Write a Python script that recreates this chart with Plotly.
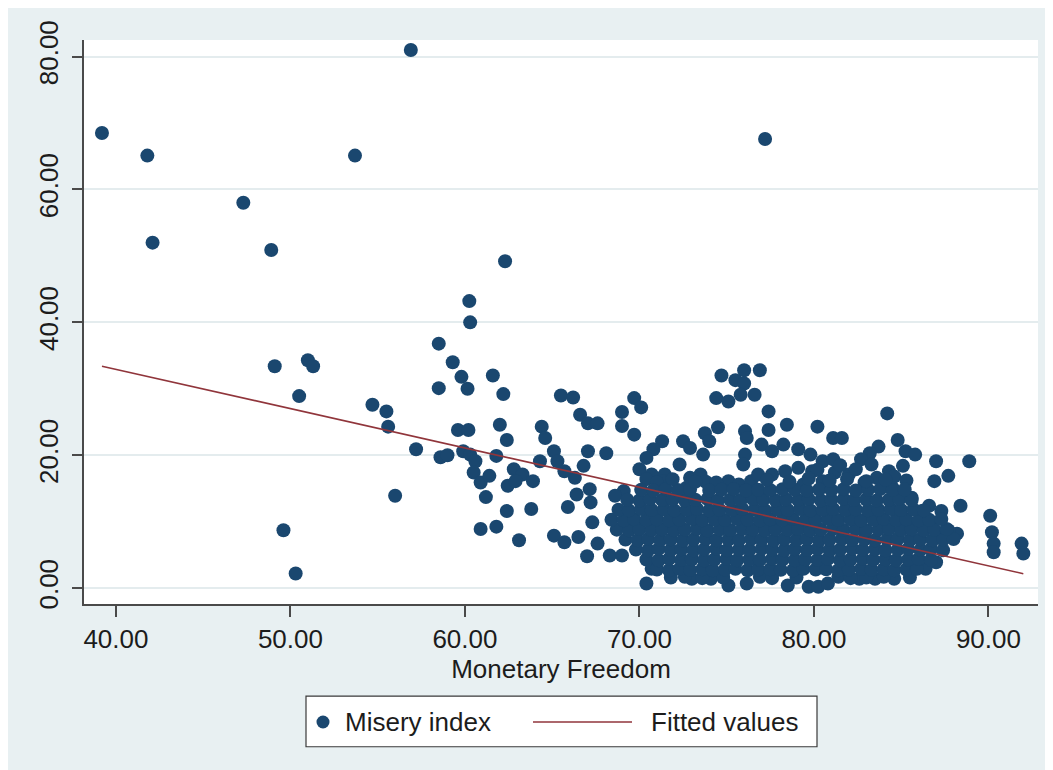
import plotly.graph_objects as go

# ---------------- data ----------------
# scattered / outlying observations
mf_scatter = [39.2, 41.8, 42.1, 47.3, 48.9, 53.7, 56.9, 77.2,
              49.6, 50.3, 49.1, 51.0, 51.3, 50.5, 54.7, 55.5, 55.6, 56.0, 57.2,
              62.3, 60.25, 60.3, 58.5, 59.3, 59.8, 60.15, 58.5, 61.6, 62.2,
              65.5, 66.2, 66.6, 67.05, 67.6, 69.0, 69.0, 69.7, 70.1, 69.7,
              59.6, 60.2, 62.0, 62.4, 64.4, 64.6,
              58.6, 59.0, 59.9, 60.3, 60.6, 60.5, 60.9, 61.4, 61.8, 61.2,
              62.8, 63.3, 63.9, 62.45, 62.9, 62.4, 63.8, 60.9, 61.8, 63.1,
              64.3, 65.1, 65.3, 65.7, 66.3, 66.8, 67.05, 68.1,
              66.4, 67.15, 67.2, 65.9, 65.1, 65.7, 66.5, 67.0, 67.3, 67.6, 68.3, 69.0, 70.4,
              74.7, 76.0, 76.9, 75.5, 76.0, 74.4, 75.1, 75.8, 76.6, 77.4, 78.45, 80.2,
              74.5, 73.75, 74.0, 73.65, 76.05, 76.15, 76.05, 75.95,
              77.4, 77.0, 77.6, 78.25, 79.1, 79.8,
              71.3, 70.8, 70.4, 70.0, 70.7,
              72.5, 72.9, 72.3, 72.9, 73.5, 72.7, 71.45, 71.3,
              75.1, 75.7, 76.4, 76.8, 77.6, 78.35, 79.1, 79.9, 80.5, 79.4, 80.5,
              73.0, 74.1, 75.1, 76.15, 78.5, 79.7, 80.25, 70.7,
              84.2, 81.1, 81.6, 84.8, 85.25, 85.8, 87.0, 88.9, 86.9, 87.7,
              83.7, 83.2, 82.7, 81.1, 85.1, 84.3, 83.6, 82.9, 82.0, 81.2,
              85.6, 84.5, 88.4, 87.3, 86.2, 86.6,
              90.1, 90.2, 90.3, 90.3, 91.9, 92.0,
              88.2, 87.7, 87.1, 86.8, 86.2, 85.6,
              87.0, 86.4, 85.4, 84.6, 83.5, 82.6, 80.8,
              80.2, 81.5, 82.4, 83.3, 84.6, 85.3, 70.4, 71.0, 73.8, 74.4, 69.1, 68.6]
mi_scatter = [68.5, 65.1, 52.0, 58.0, 50.9, 65.1, 81.0, 67.6,
              8.7, 2.2, 33.4, 34.3, 33.4, 28.9, 27.6, 26.6, 24.3, 13.9, 20.9,
              49.2, 43.2, 40.0, 36.8, 34.0, 31.8, 30.0, 30.1, 32.0, 29.2,
              29.0, 28.7, 26.1, 24.8, 24.8, 26.5, 24.4, 28.6, 27.2, 23.1,
              23.8, 23.8, 24.6, 22.3, 24.3, 22.6,
              19.7, 20.0, 20.6, 20.1, 19.1, 17.4, 15.9, 16.9, 19.9, 13.7,
              17.9, 17.1, 16.1, 15.4, 16.1, 11.6, 11.9, 8.9, 9.25, 7.2,
              19.1, 20.6, 19.1, 17.6, 16.6, 18.4, 20.6, 20.3,
              14.1, 14.9, 12.9, 12.2, 7.9, 6.9, 7.7, 4.8, 9.9, 6.7, 4.9, 4.9, 0.7,
              32.0, 32.8, 32.8, 31.3, 30.8, 28.6, 28.1, 29.1, 29.1, 26.6, 24.6, 24.3,
              24.2, 23.3, 22.1, 20.1, 23.6, 22.6, 20.1, 18.6,
              23.8, 21.6, 20.6, 21.6, 20.9, 20.1,
              22.1, 20.9, 19.6, 17.9, 17.1,
              22.1, 21.1, 18.6, 16.6, 17.1, 15.1, 17.1, 16.1,
              16.1, 15.6, 16.1, 17.1, 17.1, 17.6, 18.1, 17.6, 19.1, 15.6, 16.1,
              1.4, 1.4, 0.4, 0.7, 0.4, 0.2, 0.2, 2.9,
              26.3, 22.6, 22.6, 22.3, 20.6, 20.1, 19.1, 19.1, 16.1, 16.9,
              21.3, 20.3, 19.4, 19.4, 18.4, 17.6, 16.6, 15.9, 17.1, 17.4,
              13.6, 15.1, 12.4, 11.6, 11.6, 12.4,
              10.9, 8.4, 6.7, 5.4, 6.7, 5.2,
              8.2, 8.7, 7.7, 9.7, 10.1, 9.1,
              3.9, 2.9, 2.9, 1.4, 1.4, 1.4, 0.7,
              17.8, 18.5, 17.9, 18.6, 16.8, 16.2, 16.4, 15.9, 16.0, 15.9, 14.6, 13.9]

# dense cluster of observations (about 68-88 monetary freedom, 1.5-16 misery)
mf_cluster = [71.8, 72.6, 73.6, 74.8, 76.9, 77.6, 79.0, 81.4, 82.1, 83.0, 84.0, 85.5,
              71.0, 71.7, 72.3, 72.9, 73.6, 74.2, 74.9, 75.5, 76.2, 76.8, 77.5, 78.1, 78.8, 79.4, 80.1, 80.7, 81.4, 82.0, 82.7, 83.3, 84.0, 84.6, 85.3, 85.9,
              70.4, 71.1, 71.7, 72.4, 73.0, 73.7, 74.3, 75.0, 75.6, 76.3, 76.9, 77.6, 78.2, 78.9, 79.5, 80.2, 80.8, 81.5, 82.1, 82.8, 83.4, 84.1, 84.7, 85.4, 86.0, 86.7,
              69.8, 70.5, 71.1, 71.8, 72.4, 73.1, 73.7, 74.4, 75.0, 75.7, 76.3, 77.0, 77.6, 78.3, 78.9, 79.6, 80.2, 80.9, 81.5, 82.2, 82.8, 83.5, 84.1, 84.8, 85.4, 86.1, 86.7, 87.4,
              69.2, 69.9, 70.5, 71.2, 71.8, 72.5, 73.1, 73.8, 74.4, 75.1, 75.7, 76.4, 77.0, 77.7, 78.3, 79.0, 79.6, 80.3, 80.9, 81.6, 82.2, 82.9, 83.5, 84.2, 84.8, 85.5, 86.1, 86.8, 87.4, 88.0,
              68.7, 69.4, 70.0, 70.7, 71.3, 72.0, 72.6, 73.3, 73.9, 74.6, 75.2, 75.9, 76.5, 77.2, 77.8, 78.5, 79.1, 79.8, 80.4, 81.1, 81.7, 82.4, 83.0, 83.7, 84.3, 85.0, 85.6, 86.3, 86.9, 87.6,
              68.4, 69.1, 69.7, 70.4, 71.0, 71.7, 72.3, 73.0, 73.6, 74.3, 74.9, 75.6, 76.2, 76.9, 77.5, 78.2, 78.8, 79.5, 80.1, 80.8, 81.4, 82.1, 82.7, 83.4, 84.0, 84.7, 85.3, 86.0, 86.6, 87.3,
              68.8, 69.4, 70.1, 70.7, 71.4, 72.0, 72.7, 73.3, 74.0, 74.6, 75.3, 75.9, 76.6, 77.2, 77.9, 78.5, 79.2, 79.8, 80.5, 81.1, 81.8, 82.4, 83.1, 83.7, 84.4, 85.0, 85.7, 86.3,
              69.3, 70.0, 70.6, 71.3, 71.9, 72.6, 73.2, 73.9, 74.5, 75.2, 75.8, 76.5, 77.1, 77.8, 78.4, 79.1, 79.7, 80.4, 81.0, 81.7, 82.3, 83.0, 83.6, 84.3, 84.9, 85.6,
              70.1, 70.8, 71.5, 72.2, 72.9, 74.0, 74.7, 75.4, 76.1, 76.8, 77.5, 78.2, 78.9, 79.6, 80.3, 81.0, 81.7, 82.4, 83.1, 83.8, 84.5, 85.2,
              77.3, 78.6, 79.7, 80.9, 81.9, 83.0, 84.1, 71.9, 73.2]
mi_cluster = [1.6, 1.7, 1.5, 1.6, 1.7, 1.5, 1.6, 1.7, 1.5, 1.6, 1.7, 1.6,
              2.8, 2.7, 2.9, 2.75, 2.85, 2.7, 2.8, 2.9, 2.7, 2.8, 2.85, 2.75, 2.7, 2.9, 2.8, 2.85, 2.7, 2.8, 2.9, 2.75, 2.85, 2.7, 2.8, 2.9,
              4.3, 4.2, 4.4, 4.25, 4.35, 4.2, 4.3, 4.4, 4.2, 4.3, 4.25, 4.4, 4.3, 4.2, 4.35, 4.25, 4.4, 4.2, 4.3, 4.4, 4.25, 4.35, 4.2, 4.3, 4.4, 4.25,
              5.8, 5.7, 5.9, 5.75, 5.85, 5.7, 5.8, 5.9, 5.7, 5.8, 5.75, 5.9, 5.8, 5.7, 5.85, 5.75, 5.9, 5.7, 5.8, 5.9, 5.75, 5.85, 5.7, 5.8, 5.9, 5.75, 5.85, 5.7,
              7.3, 7.2, 7.4, 7.25, 7.35, 7.2, 7.3, 7.4, 7.2, 7.3, 7.25, 7.4, 7.3, 7.2, 7.35, 7.25, 7.4, 7.2, 7.3, 7.4, 7.25, 7.35, 7.2, 7.3, 7.4, 7.25, 7.35, 7.2, 7.3, 7.4,
              8.8, 8.7, 8.9, 8.75, 8.85, 8.7, 8.8, 8.9, 8.7, 8.8, 8.75, 8.9, 8.8, 8.7, 8.85, 8.75, 8.9, 8.7, 8.8, 8.9, 8.75, 8.85, 8.7, 8.8, 8.9, 8.75, 8.85, 8.7, 8.8, 8.9,
              10.3, 10.2, 10.4, 10.25, 10.35, 10.2, 10.3, 10.4, 10.2, 10.3, 10.25, 10.4, 10.3, 10.2, 10.35, 10.25, 10.4, 10.2, 10.3, 10.4, 10.25, 10.35, 10.2, 10.3, 10.4, 10.25, 10.35, 10.2, 10.3, 10.4,
              11.8, 11.7, 11.9, 11.75, 11.85, 11.7, 11.8, 11.9, 11.7, 11.8, 11.75, 11.9, 11.8, 11.7, 11.85, 11.75, 11.9, 11.7, 11.8, 11.9, 11.75, 11.85, 11.7, 11.8, 11.9, 11.75, 11.85, 11.7,
              13.3, 13.2, 13.4, 13.25, 13.35, 13.2, 13.3, 13.4, 13.2, 13.3, 13.25, 13.4, 13.3, 13.2, 13.35, 13.25, 13.4, 13.2, 13.3, 13.4, 13.25, 13.35, 13.2, 13.3, 13.4, 13.25,
              14.8, 14.7, 14.9, 14.75, 14.85, 14.7, 14.8, 14.9, 14.7, 14.8, 14.75, 14.9, 14.8, 14.7, 14.85, 14.75, 14.9, 14.7, 14.8, 14.9, 14.75, 14.85,
              16.3, 16.0, 16.5, 16.2, 16.4, 16.1, 16.3, 16.4, 16.0]

# linear fit: misery = intercept + slope * freedom
fit_intercept = 56.59
fit_slope = -0.5915

x_ticks = [40, 50, 60, 70, 80, 90]
y_ticks = [0, 20, 40, 60, 80]
legend_labels = ["Misery index", "Fitted values"]

# ---------------- figure ----------------
mf = mf_scatter + mf_cluster
mi = mi_scatter + mi_cluster
fit_x = [min(mf), max(mf)]
fit_y = [fit_intercept + fit_slope * v for v in fit_x]

NAVY = "#1A476F"
MAROON = "#90353B"
BG = "#E8F0F2"
TXT = "#1c1c1c"
AX = "#4a4a4a"
FONT = "Liberation Sans, Arial, sans-serif"

fig = go.Figure()
fig.add_trace(go.Scatter(x=mf, y=mi, mode="markers", name=legend_labels[0],
                         marker=dict(size=14, color=NAVY, line=dict(width=0)),
                         showlegend=False))
fig.add_trace(go.Scatter(x=fit_x, y=fit_y, mode="lines", name=legend_labels[1],
                         line=dict(color=MAROON, width=1.6), showlegend=False))

# The page body keeps its default 8px margin, so the figure is placed at (8, 8).
OFF = 8
W, H = 1053 - OFF, 770 - OFF
PX_L, PX_R, PX_T, PX_B = 84, 1038, 35, 604          # plot area in page pixels
L, R, T, B = PX_L - OFF, W - (PX_R - OFF), PX_T - OFF, H - (PX_B - OFF)
pw, ph = PX_R - PX_L, PX_B - PX_T


def px(xp):
    return (xp - PX_L) / pw


def py(yp):
    return (PX_B - yp) / ph


# legend box drawn to the reference proportions
leg_y = 723
shapes = [
    dict(type="rect", xref="paper", yref="paper", layer="above",
         x0=px(306), x1=px(817), y0=py(748), y1=py(697),
         fillcolor="white", line=dict(color="#3a3a3a", width=1.2)),
    dict(type="circle", xref="paper", yref="paper", layer="above",
         x0=px(323 - 6.5), x1=px(323 + 6.5), y0=py(leg_y + 6.5), y1=py(leg_y - 6.5),
         fillcolor=NAVY, line=dict(width=0)),
    dict(type="line", xref="paper", yref="paper", layer="above",
         x0=px(533), x1=px(632), y0=py(leg_y), y1=py(leg_y),
         line=dict(color=MAROON, width=1.6)),
]
annotations = [
    dict(xref="paper", yref="paper", x=px(343), y=py(leg_y), xanchor="left",
         yanchor="middle", text=legend_labels[0], showarrow=False,
         font=dict(family=FONT, size=26, color=TXT)),
    dict(xref="paper", yref="paper", x=px(649), y=py(leg_y), xanchor="left",
         yanchor="middle", text=legend_labels[1], showarrow=False,
         font=dict(family=FONT, size=26, color=TXT)),
]

fig.update_layout(
    width=W, height=H,
    margin=dict(l=L, r=R, t=T, b=B, pad=0),
    paper_bgcolor=BG, plot_bgcolor="white",
    font=dict(family=FONT, size=26, color=TXT),
    showlegend=False,
    xaxis=dict(range=[38.17, 92.84], tickvals=x_ticks,
               ticktext=[f"{v:.2f}" for v in x_ticks],
               showgrid=False, zeroline=False,
               showline=True, linecolor=AX, linewidth=2,
               ticks="outside", ticklen=11, tickwidth=1.5, tickcolor=AX,
               tickfont=dict(size=26, color=TXT),
               title=dict(text="Monetary Freedom", standoff=2,
                          font=dict(size=26, color=TXT))),
    yaxis=dict(range=[-2.39, 82.5], tickvals=y_ticks,
               ticktext=[f"{v:.2f}" for v in y_ticks],
               tickangle=-90, ticklabelstandoff=4,
               showgrid=True, gridcolor="#E4ECEE", gridwidth=1.5,
               zeroline=False,
               showline=True, linecolor=AX, linewidth=2,
               ticks="outside", ticklen=10, tickwidth=1.5, tickcolor=AX,
               tickfont=dict(size=26, color=TXT)),
    shapes=shapes,
    annotations=annotations,
)

fig.write_html("out.html")
